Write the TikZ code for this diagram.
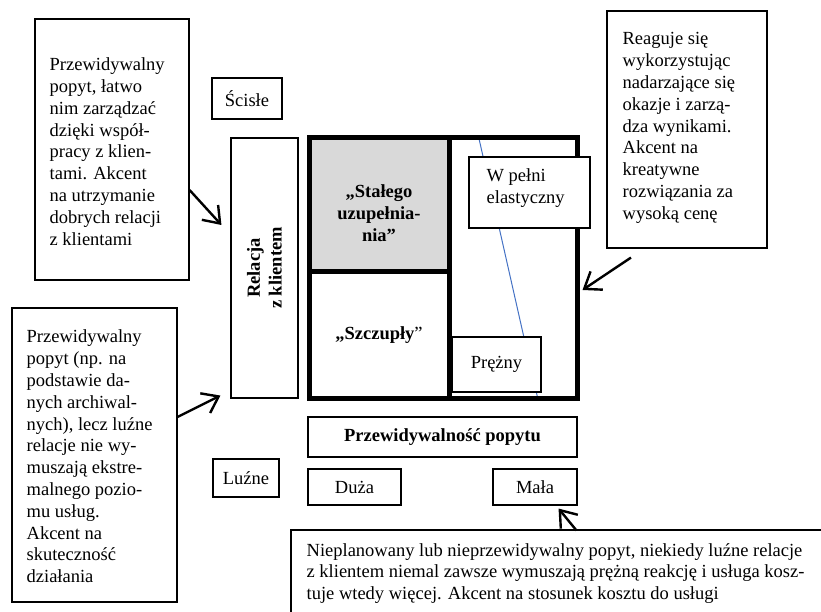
\documentclass[tikz,border=0pt]{standalone}
\usepackage{fontspec}
\setmainfont{Liberation Serif}
\usetikzlibrary{arrows.meta,calc}
\definecolor{trendblue}{RGB}{68,114,196}
\begin{document}
\begin{tikzpicture}[x=1pt,y=-1pt,
  font=\fontsize{18.5pt}{21.8pt}\selectfont,
  box/.style={draw, line width=1.1pt, inner sep=0pt, fill=white},
  txt/.style={anchor=west, align=left, inner sep=0pt},
  ctxt/.style={align=center, inner sep=0pt},
  cell/.style={draw, line width=5pt, inner sep=0pt},
  pointer/.style={line width=2.4pt,
    -{Straight Barb[length=15pt,width=22pt,line width=2.4pt]}},
]
\useasboundingbox (0,0) rectangle (821,612);
\clip (0,0) rectangle (821,612);

% explanatory boxes around the matrix
\node[box, minimum width=154, minimum height=261] (tl) at (112,149.5) {};
\node[txt] (tltext) at ($(tl.west)+(15,2)$)
  {Przewidywalny\\popyt, łatwo\\nim zarządzać\\dzięki współ-\\pracy z klien-\\tami. Akcent\\na utrzymanie\\dobrych relacji\\z klientami};

\node[box, minimum width=165, minimum height=294] (bl) at (94.5,455) {};
\node[txt] (bltext) at ($(bl.west)+(15,1.5)$)
  {Przewidywalny\\popyt (np. na\\podstawie da-\\nych archiwal-\\nych), lecz luźne\\relacje nie wy-\\muszają ekstre-\\malnego pozio-\\mu usług.\\Akcent na\\skuteczność\\działania};

\node[box, minimum width=160, minimum height=237] (tr) at (687,129.5) {};
\node[txt] (trtext) at ($(tr.west)+(16,-1.5)$)
  {Reaguje się\\wykorzystując\\nadarzające się\\okazje i zarzą-\\dza wynikami.\\Akcent na\\kreatywne\\rozwiązania za\\wysoką cenę};

\node[box, minimum width=549, minimum height=110] (bb) at (565.5,585) {};
\node[txt] (bbtext) at ($(bb.west)+(16,-11.5)$)
  {Nieplanowany lub nieprzewidywalny popyt, niekiedy luźne relacje\\z klientem niemal zawsze wymuszają prężną reakcję i usługa kosz-\\tuje wtedy więcej. Akcent na stosunek kosztu do usługi};

% axis labels
\node[box, minimum width=70, minimum height=41] (scisle) at (247,98.5) {Ścisłe};
\node[box, minimum width=66, minimum height=38] (luzne) at (246,478) {Luźne};
\node[box, minimum width=67, minimum height=260] (rel) at (264.5,268) {};
\node[ctxt, rotate=90, font=\fontsize{18.5pt}{21.8pt}\selectfont\bfseries] (reltext) at (rel.center)
  {Relacja\\z klientem};

\node[box, minimum width=269, minimum height=40, font=\fontsize{18.5pt}{21.8pt}\selectfont\bfseries]
  (przew) at (442.5,437) {Przewidywalność popytu};
\node[box, minimum width=93, minimum height=36] (duza) at (354.5,487) {Duża};
\node[box, minimum width=84, minimum height=36] (mala) at (535,487) {Mała};

% the matrix
\node[inner sep=0pt, minimum width=128, minimum height=260.5] (right) at (513,268.25) {};
\draw[trendblue, line width=1pt]
  ($(right.north west)+(30,0)$) -- ($(right.south west)+(89,0)$);
\node[cell, fill=black!15, minimum width=140, minimum height=133.5] (stale) at (379,204.75) {};
\node[cell, minimum width=140, minimum height=127] (lean) at (379,335) {};
\node[cell, minimum width=128, minimum height=260.5] (rightframe) at (513,268.25) {};
\node[ctxt, font=\fontsize{18.5pt}{21.8pt}\selectfont\bfseries] (staletext) at (379,213)
  {„Stałego\\uzupełnia-\\nia”};
\node[ctxt] (leantext) at (379,335) {\textbf{„Szczupły}”};

\node[box, minimum width=121, minimum height=71] (elast) at (529.5,192.5) {};
\node[txt] (elasttext) at ($(elast.west)+(18,-4.5)$) {W pełni\\elastyczny};
\node[box, minimum width=89, minimum height=55] (prezny) at (496.5,364.5) {Prężny};

% pointers
\draw[pointer] ($(tl.east)+(0,40.5)$) -- ($(rel.west)+(-9,-43)$);
\draw[pointer] ($(bl.east)+(0,-38)$) -- ($(rel.south west)+(-10,-3)$);
\draw[pointer] ($(tr.south)+(-56,9)$) -- ($(rightframe.east)+(3,21.75)$);
\draw[pointer] ($(bb.north west)+(286,1)$) -- ($(mala.south east)+(-19,3)$);
\end{tikzpicture}
\end{document}
